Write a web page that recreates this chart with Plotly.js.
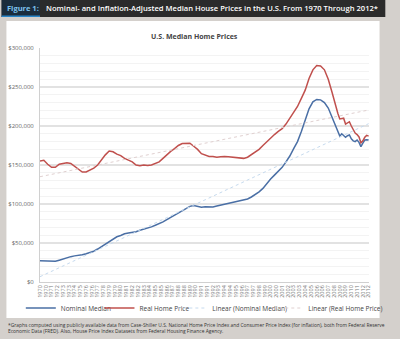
<!DOCTYPE html>
<html>
<head>
<meta charset="utf-8">
<script src="https://cdn.plot.ly/plotly-3.0.1.min.js"></script>
<style>
html,body{margin:0;padding:0;background:#d4d0cc;}
#chart{width:400px;height:339px;}
</style>
</head>
<body>
<div id="chart"></div>
<script>
// ---- Data (values in thousands of dollars) ----
const years = [
  1970,1970.5,1971,1971.5,1972,1972.5,1973,1973.5,1974,1974.5,
  1975,1975.5,1976,1976.5,1977,1977.5,1978,1978.5,1979,1979.5,
  1980,1980.5,1981,1981.5,1982,1982.5,1983,1983.5,1984,1984.5,
  1985,1985.5,1986,1986.5,1987,1987.5,1988,1988.5,1989,1989.5,
  1990,1990.5,1991,1991.5,1992,1992.5,1993,1993.5,1994,1994.5,
  1995,1995.5,1996,1996.5,1997,1997.5,1998,1998.5,1999,1999.5,
  2000,2000.5,2001,2001.5,2002,2002.5,2003,2003.5,2004,2004.5,
  2005,2005.5,2006,2006.5,2007,2007.5,
  2008,2008.25,2008.5,2008.75,2009,2009.25,2009.5,2009.75,
  2010,2010.25,2010.5,2010.75,2011,2011.25,2011.5,2011.75,
  2012,2012.25,2012.5,2012.75
];
const nominalMedian = [
  27.3,27.3,27.3,27,26.5,28,29.7,31,32.5,33.5,
  34,35,36.3,37.8,39.5,42.3,45.5,49,52.5,55.3,
  58,59.7,61.8,62.7,63.5,64.5,66.3,67.5,69,70.7,
  72.7,74.6,77,80,83,86,88.5,92,95,97,
  98,97,95.8,96.5,96,96.3,97.4,98.6,99.8,101.3,
  102.2,103,104,105.2,106.4,109,111.7,115.5,120,126.5,
  132,137,142,147,154,161.5,171,180,193,206.5,
  222,231,234,233.5,230,223,
  211,205.5,200,194,187,190,188,185.5,
  187.5,188.5,183.5,181,180,182,179,173.5,
  178,182,182.5,182
];
const realHomePrice = [
  155,156,151,147,147,151,152,153,152,148,
  144,141,141,143,146,150,157,163,168,167,
  164,162,158.5,156,154,150,149,150,149.5,150,
  151.5,154,158.5,163.5,167.5,171,175,177.5,178,178,
  174,170,164.5,162.5,161,161,160,160.5,161,160.5,
  160,159.5,159.5,158.5,160,163,166,170,175,180,
  184.5,189,193,196.5,202.5,209.5,217,225,235.5,246,
  261,272,277.5,277,272,260,
  243,233,225,216,209,210,210,202.5,
  203.5,205.5,200,195,191,189,186,178.5,
  181,185.5,188,187
];
// Excel linear trendlines, endpoints
const trendYears = [1970, 2012.75];
const nominalTrend = [6.8, 203];
const realTrend = [135, 220.5];

const seriesNames = ["Nominal Median","Real Home Price","Linear (Nominal Median)","Linear (Real Home Price)"];
const yTickVals = [0,50000,100000,150000,200000,250000,300000];
const yTickText = ["$0","$50,000","$100,000","$150,000","$200,000","$250,000","$300,000"];
// x tick labels: one every three quarters, labelled with the year
const xTickVals = [];
const xTickText = [];
for (let q = 0; q < 172; q += 3) { const v = 1970 + q/4; xTickVals.push(v); xTickText.push(String(Math.floor(v))); }

const headerLabel = "Figure 1:";
const headerTitle = "Nominal- and Inflation-Adjusted Median House Prices in the U.S. From 1970 Through 2012*";
const chartTitle = "U.S. Median Home Prices";
const footnote = "*Graphs computed using publicly available data from Case-Shiller U.S. National Home Price Index and Consumer Price Index (for inflation), both from Federal Reserve<br>Economic Data (FRED). Also, House Price Index Datasets from Federal Housing Finance Agency.";

// ---- Layout geometry (pixels) ----
const W = 400, H = 339;
const ml = 40, mr = 17, mt = 48, mb = 57;
const pw = W - ml - mr, ph = H - mt - mb;
const px = p => (p - ml) / pw;
const py = p => (H - mb - p) / ph;

const k = a => a.map(v => v * 1000);

const traces = [
  {x: years, y: k(nominalMedian), name: seriesNames[0], type: "scatter", mode: "lines",
   line: {color: "#4a6fa5", width: 1.5}, legend: "legend"},
  {x: years, y: k(realHomePrice), name: seriesNames[1], type: "scatter", mode: "lines",
   line: {color: "#c0504d", width: 1.5}, legend: "legend2"},
  {x: trendYears, y: k(nominalTrend), name: seriesNames[2], type: "scatter", mode: "lines",
   line: {color: "#c6daee", width: 1, dash: "dot"}, legend: "legend3"},
  {x: trendYears, y: k(realTrend), name: seriesNames[3], type: "scatter", mode: "lines",
   line: {color: "#e0d0d0", width: 1, dash: "dot"}, legend: "legend4"}
];

const legendBase = pxText => ({
  orientation: "h", x: px(pxText - 40), xanchor: "left", y: py(308), yanchor: "middle",
  font: {size: 6.5, color: "#444"}, bgcolor: "rgba(0,0,0,0)", borderwidth: 0
});

const layout = {
  width: W, height: H,
  margin: {l: ml, r: mr, t: mt, b: mb, pad: 0},
  paper_bgcolor: "#d4d0cc",
  plot_bgcolor: "#ffffff",
  font: {family: "Open Sans, Lato, sans-serif", color: "#555"},
  showlegend: true,
  legend: legendBase(60),
  legend2: legendBase(142),
  legend3: legendBase(218),
  legend4: legendBase(318),
  xaxis: {range: [1970, 2012.8], tickmode: "array", tickvals: xTickVals, ticktext: xTickText,
          tickangle: -90, tickfont: {size: 5.5, color: "#777"}, showgrid: false, zeroline: false,
          showline: true, linecolor: "#d0d0d0", linewidth: 1, ticks: "", fixedrange: true},
  yaxis: {range: [0, 300000], tickmode: "array", tickvals: yTickVals, ticktext: yTickText,
          tickfont: {size: 6, color: "#666"}, gridcolor: "#e2e2e2", gridwidth: 1.5,
          minor: {dtick: 10000, showgrid: true, gridcolor: "#f3f3f3", gridwidth: 1},
          zeroline: false, showline: true, linecolor: "#d0d0d0", linewidth: 1, ticks: "",
          ticklabelstandoff: 4, fixedrange: true},
  shapes: [
    {type: "rect", xref: "paper", yref: "paper", x0: px(5), x1: px(394), y0: py(318), y1: py(21),
     fillcolor: "#ffffff", line: {width: 0}, layer: "below"},
    {type: "rect", xref: "paper", yref: "paper", x0: px(0), x1: px(400), y0: py(17), y1: py(0),
     fillcolor: "#2b2b2b", line: {width: 0}, layer: "below"},
    {type: "rect", xref: "paper", yref: "paper", x0: px(0), x1: px(40), y0: py(17), y1: py(0),
     fillcolor: "#1b2d3d", line: {width: 0}, layer: "below"},
    {type: "rect", xref: "paper", yref: "paper", x0: px(0), x1: px(40), y0: py(17), y1: py(15.5),
     fillcolor: "#2a86c8", line: {width: 0}, layer: "below"}
  ],
  annotations: [
    {text: "<b>" + headerLabel + "</b>", xref: "paper", yref: "paper", x: px(4), y: py(8.5),
     xanchor: "left", yanchor: "middle", showarrow: false, font: {size: 7.5, color: "#7fc3ef"}},
    {text: headerTitle, xref: "paper", yref: "paper", x: px(44), y: py(8.5),
     xanchor: "left", yanchor: "middle", showarrow: false, font: {size: 7.6, color: "#ffffff", weight: 600}},
    {text: "<b>" + chartTitle + "</b>", xref: "paper", yref: "paper", x: px(201), y: py(37),
     xanchor: "center", yanchor: "middle", showarrow: false, font: {size: 7, color: "#444"}},
    {text: footnote, xref: "paper", yref: "paper", x: px(5), y: py(328), align: "left",
     xanchor: "left", yanchor: "middle", showarrow: false, font: {size: 4.9, color: "#333"}}
  ]
};

Plotly.newPlot("chart", traces, layout, {displayModeBar: false, staticPlot: true});
</script>
</body>
</html>
